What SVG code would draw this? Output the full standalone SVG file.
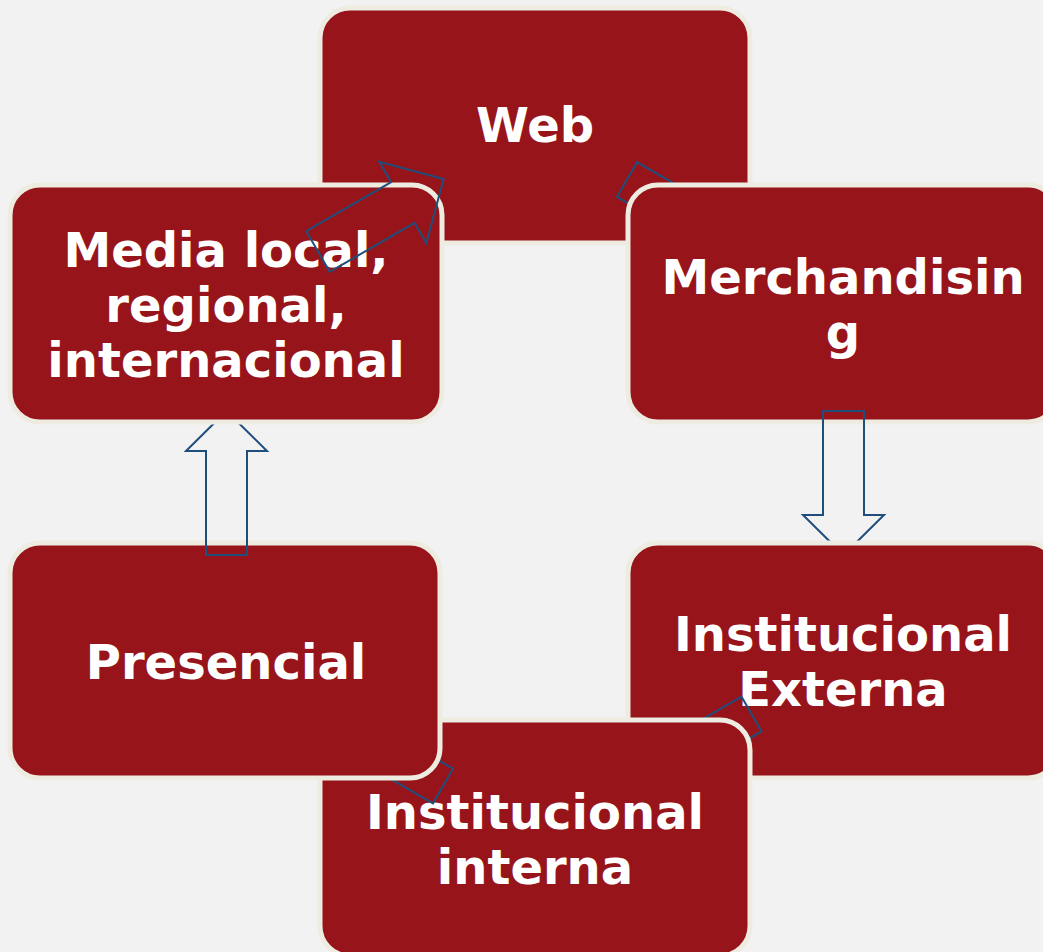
<svg xmlns="http://www.w3.org/2000/svg" width="1043" height="952" viewBox="0 0 1043 952">
<style>
.box{fill:#97141a;stroke:#eeebe0;stroke-width:5}
.lbl{font-family:"DejaVu Sans",sans-serif;font-weight:bold;font-size:48px;fill:#ffffff;text-anchor:middle}
.arr{fill:none;stroke:#1f4e7d;stroke-width:2;stroke-linejoin:miter}
</style>
<defs>
<polygon id="diag" points="0,-20 82,-20 82,-38 120,0 82,38 82,20 0,20"/>
</defs>
<rect width="1043" height="952" fill="#f2f2f2"/>
<g id="node-web">
<rect class="box" x="320" y="8" width="430" height="235" rx="30"/>
<text class="lbl" x="535" y="142">Web</text>
</g>
<g id="connectors-1">
<use href="#diag" class="arr" transform="translate(627,179.5) rotate(30)"/>
</g>
<g id="node-merch">
<rect class="box" x="628" y="185" width="430" height="237" rx="30"/>
<text class="lbl" x="843" y="294">Merchandisin</text>
<text class="lbl" x="843" y="349">g</text>
</g>
<g id="connectors-2">
<polygon class="arr" points="823,411 864,411 864,515 884,515 843.5,555 803,515 823,515"/>
</g>
<g id="node-externa">
<rect class="box" x="628" y="543" width="430" height="235" rx="30"/>
<text class="lbl" x="843" y="651">Institucional</text>
<text class="lbl" x="843" y="706">Externa</text>
</g>
<g id="connectors-3">
<use href="#diag" class="arr" transform="translate(751.5,714) rotate(150)"/>
</g>
<g id="node-interna">
<rect class="box" x="320" y="720" width="430" height="236" rx="30"/>
<text class="lbl" x="535" y="829">Institucional</text>
<text class="lbl" x="535" y="884">interna</text>
</g>
<g id="connectors-4">
<use href="#diag" class="arr" transform="translate(443,786) rotate(210)"/>
</g>
<g id="node-presencial">
<rect class="box" x="10" y="543" width="430" height="235" rx="30"/>
<text class="lbl" x="226" y="679">Presencial</text>
</g>
<g id="connectors-5">
<polygon class="arr" points="206,555 206,451 186,451 226.5,411 267,451 247,451 247,555"/>
</g>
<g id="node-media">
<rect class="box" x="10" y="185" width="432" height="237" rx="30"/>
<text class="lbl" x="226" y="267">Media local,</text>
<text class="lbl" x="226" y="322">regional,</text>
<text class="lbl" x="226" y="377">internacional</text>
</g>
<g id="connectors-6">
<polygon class="arr" points="0,-23.5 98,-23.5 98,-47 145,0 98,47 98,23.5 0,23.5" transform="translate(318,251.5) rotate(-30)"/>
</g>
</svg>
